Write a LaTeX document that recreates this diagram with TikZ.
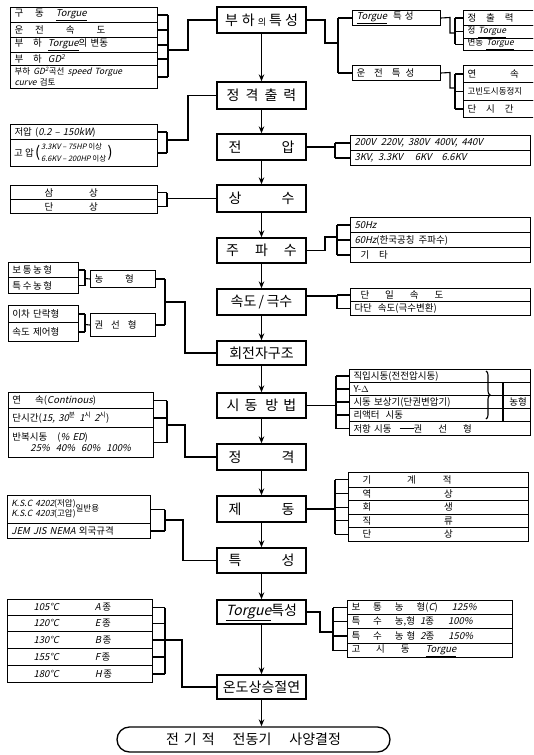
\documentclass[tikz,border=0pt]{standalone}
\usepackage{fontspec}
\setmainfont{Noto Sans CJK KR}
\newfontfamily\krit[FakeSlant=0.22]{Noto Sans CJK KR}
\usetikzlibrary{arrows.meta,calc,decorations.pathreplacing}
\newcommand{\ltn}[1]{{\krit #1}}
\newcommand{\rw}[6]{\pgfmathsetmacro{\rwtw}{#4-8}\node[rowb,minimum width=#4pt,minimum height=#5pt,text width=\rwtw pt] (#1) at (#2,#3) {#6};}
\newcommand{\stubsE}[2]{\foreach \r in {#1} {\draw[ln] (\r.east) -- (\r.east -| #2);}}
\newcommand{\stubsW}[2]{\foreach \r in {#1} {\draw[ln] (\r.west) -- (\r.west -| #2);}}
\begin{document}
\begin{tikzpicture}[x=1pt,y=-1pt,
  cbox/.style={draw,line width=1.3pt,minimum width=89pt,inner sep=0pt,font=\fontsize{14}{16}\selectfont},
  rowb/.style={draw,line width=1pt,anchor=north west,inner xsep=4pt,inner ysep=0pt,align=left,font=\fontsize{9.5}{11}\selectfont},
  small/.style={anchor=west,inner sep=0pt,font=\fontsize{7.5}{9}\selectfont},
  paren/.style={anchor=west,inner sep=0pt,font=\fontsize{15}{15}\selectfont},
  ln/.style={line width=1.1pt},
  arr/.style={line width=1.2pt,-{Stealth[length=7pt,width=5.5pt]}}]
\useasboundingbox (0,0) rectangle (533,755);
\fill[white] (0,0) rectangle (533,755);
\clip (0,0) rectangle (533,755);

% ---------- central column ----------
\node[cbox,minimum height=26pt] (c1) at (261.5,20) {부\hspace{4pt}하\hspace{3pt}{\fontsize{9}{10}\selectfont 의}\hspace{3pt}특\hspace{3pt}성};
\node[cbox,minimum height=27pt] (c2) at (261.5,95.5) {정\hspace{6pt}격\hspace{6pt}출\hspace{6pt}력};
\node[cbox,minimum height=26pt] (c3) at (261.5,147) {전\hspace{40pt}압};
\node[cbox,minimum height=27pt] (c4) at (261.5,198.5) {상\hspace{40pt}수};
\node[cbox,minimum height=25pt] (c5) at (261.5,250.5) {주\hspace{16pt}파\hspace{16pt}수};
\node[cbox,minimum height=26pt] (c6) at (261.5,302) {속도\,/\,극수};
\node[cbox,minimum height=24pt] (c7) at (261.5,353) {회전자구조};
\node[cbox,minimum height=25pt] (c8) at (261.5,405.5) {시\hspace{5pt}동\hspace{8pt}방\hspace{5pt}법};
\node[cbox,minimum height=26pt] (c9) at (261.5,457) {정\hspace{40pt}격};
\node[cbox,minimum height=26pt] (c10) at (261.5,509) {제\hspace{40pt}동};
\node[cbox,minimum height=25pt] (c11) at (261.5,560.5) {특\hspace{40pt}성};
\node[cbox,minimum height=24pt] (c12) at (261.5,612) {\ltn{\underline{Torgue}}특성};
\node[cbox,minimum height=24pt] (c13) at (261.5,687) {온도상승절연};
\node[cbox,minimum width=273pt,minimum height=25pt,rounded corners=12.5pt] (st) at (253.5,739.5) {전\hspace{5pt}기\hspace{5pt}적\hspace{18pt}전동기\hspace{18pt}사양결정};

\foreach \a/\b in {c1/c2,c2/c3,c3/c4,c4/c5,c5/c6,c6/c7,c7/c8,c8/c9,c9/c10,c10/c11,c11/c12,c12/c13}
  {\draw[arr] (\a) -- (\b);}
\draw[arr] (c13.south) -- (c13.south |- st.north);

% ---------- A: load characteristics ----------
\rw{a1}{10}{7}{147}{15}{구\hspace{12pt}동\hspace{12pt}\ltn{\underline{Torgue}}}
\rw{a2}{10}{22}{147}{15}{운\hspace{12pt}전\hspace{22pt}속\hspace{22pt}도}
\rw{a3}{10}{37}{147}{15}{부\hspace{10pt}하\hspace{6pt}\ltn{\underline{Torgue}}의 변동}
\rw{a4}{10}{52}{147}{13}{부\hspace{10pt}하\hspace{6pt}\ltn{GD\textsuperscript{2}}}
\rw{a5}{10}{65}{147}{23}{\fontsize{8.5}{10}\selectfont 부하 \ltn{GD\textsuperscript{2}}곡선 \ltn{speed Torgue}\\\ltn{curve} 검토}
\coordinate (aB) at (168,50);
\coordinate (aK) at (188,50);
\stubsE{a1,a2,a3,a4,a5}{aB}
\draw[ln] (a1.east -| aB) -- (a5.east -| aB);
\draw[ln] (aB) -- (aK) |- (c1.west);

% ---------- B: rated output ----------
\rw{b1}{10}{124}{147}{15}{저압 (\ltn{0.2 – 150kW})}
\rw{b2}{10}{139}{147}{27}{}
\node[anchor=west,inner sep=0pt,font=\fontsize{9.5}{11}\selectfont] (bg) at (14,152.5) {고 압};
\node[paren] (bp1) at ($(bg.east)+(1,0)$) {(};
\node[small] (bt1) at (41,146.5) {\ltn{3.3KV – 75HP} 이상};
\node[small] (bt2) at (41,159) {\ltn{6.6KV – 200HP} 이상};
\node[paren] (bp2) at ($(bt2.east |- bp1)+(1,0)$) {)};
\coordinate (bB) at (167,140);
\coordinate (bK) at (188,140);
\stubsE{b1,b2}{bB}
\draw[ln] (b1.east -| bB) -- (b2.east -| bB);
\draw[ln] (bB) -- (bK) |- (c2.west);

% ---------- C: phases ----------
\rw{cc1}{10}{185}{147}{14}{\hspace{30pt}삼\hspace{36pt}상}
\rw{cc2}{10}{199}{147}{14}{\hspace{30pt}단\hspace{36pt}상}
\coordinate (cB) at (167,198.5);
\stubsE{cc1,cc2}{cB}
\draw[ln] (cc1.east -| cB) -- (cc2.east -| cB);
\draw[ln] (cB) -- (c4.west);

% ---------- D: rotor construction ----------
\rw{d1}{8}{262}{70}{15}{보\,통\,농\,형}
\rw{d2}{8}{277}{70}{16}{특\,수\,농\,형}
\rw{d3}{90}{270}{65}{17}{농\hspace{22pt}형}
\rw{d4}{8}{305}{70}{17}{이차 단락형}
\rw{d5}{8}{322}{70}{19}{속도 제어형}
\rw{d6}{90}{313}{65}{23}{권\hspace{8pt}선\hspace{8pt}형}
\coordinate (dB1) at (85,278.5);
\coordinate (dB2) at (85,324.5);
\coordinate (dB3) at (165,302);
\coordinate (dK) at (185,302);
\stubsE{d1,d2}{dB1}
\draw[ln] (d1.east -| dB1) -- (d2.east -| dB1);
\draw[ln] (dB1) -- (d3.west);
\stubsE{d4,d5}{dB2}
\draw[ln] (d4.east -| dB2) -- (d5.east -| dB2);
\draw[ln] (dB2) -- (d6.west);
\stubsE{d3,d6}{dB3}
\draw[ln] (d3.east -| dB3) -- (d6.east -| dB3);
\draw[ln] (dB3) -- (dK) |- (c7.west);

% ---------- E: starting methods ----------
\rw{e1}{349}{369}{181}{13}{직입시동(전전압시동)}
\rw{e2}{349}{382}{181}{13}{Y-$\Delta$}
\rw{e3}{349}{395}{181}{13}{시동 보상기(단권변압기)}
\rw{e4}{349}{408}{181}{13}{리액터\hspace{6pt}시동}
\rw{e5}{349}{421}{181}{14}{저항 시동\hspace{8pt}\rule[3pt]{14pt}{0.8pt}권\hspace{16pt}선\hspace{16pt}형}
\draw[ln,decorate,decoration={brace,amplitude=4pt}] (486,371) -- (486,419);
\draw[ln] (503,382) -- (503,421);
\node[font=\fontsize{9.5}{11}\selectfont] (eN) at (518,401.5) {농형};
\coordinate (eB) at (336,405.5);
\stubsW{e1,e2,e3,e4,e5}{eB}
\draw[ln] (e1.west -| eB) -- (e5.west -| eB);
\draw[ln] (c8.east) -- (eB);

% ---------- F: duty ----------
\rw{f1}{8}{392}{145}{16}{연\hspace{14pt}속(\ltn{Continous})}
\rw{f2}{8}{408}{145}{19}{단시간(\ltn{15, 30}\textsuperscript{분}\hspace{4pt}\ltn{1}\textsuperscript{시}\hspace{3pt}\ltn{2}\textsuperscript{시})}
\rw{f3}{8}{427}{145}{30}{반복시동\hspace{10pt}(\ltn{\% ED})\\\hspace{18pt}\ltn{25\%\hspace{6pt}40\%\hspace{6pt}60\%\hspace{6pt}100\%}}
\coordinate (fB) at (167,425);
\coordinate (fK) at (185,425);
\stubsE{f1,f2,f3}{fB}
\draw[ln] (f1.east -| fB) -- (f3.east -| fB);
\draw[ln] (fB) -- (fK) |- (c9.west);

% ---------- G: standards ----------
\rw{g1}{7}{495}{143}{28}{\fontsize{8.5}{10}\selectfont\begin{tabular}{@{}l@{}}\ltn{K.S.C 4202}(저압)\\\ltn{K.S.C 4203}(고압)\end{tabular}일반용}
\rw{g2}{7}{523}{143}{15}{\ltn{JEM JIS NEMA} 외국규격}
\coordinate (gB) at (165,520);
\coordinate (gK) at (183,520);
\stubsE{g1,g2}{gB}
\draw[ln] (g1.east -| gB) -- (g2.east -| gB);
\draw[ln] (gB) -- (gK) |- (c11.west);

% ---------- H: insulation classes ----------
\rw{h1}{7}{599}{145}{16}{\hspace{22pt}\ltn{105°C}\hspace{36pt}\ltn{A}\,종}
\rw{h2}{7}{615}{145}{16}{\hspace{22pt}\ltn{120°C}\hspace{36pt}\ltn{E}\,종}
\rw{h3}{7}{631}{145}{17}{\hspace{22pt}\ltn{130°C}\hspace{36pt}\ltn{B}\,종}
\rw{h4}{7}{648}{145}{17}{\hspace{22pt}\ltn{155°C}\hspace{36pt}\ltn{F}\,종}
\rw{h5}{7}{665}{145}{17}{\hspace{22pt}\ltn{180°C}\hspace{36pt}\ltn{H}\,종}
\coordinate (hB) at (165,640);
\coordinate (hK) at (182,640);
\stubsE{h1,h2,h3,h4,h5}{hB}
\draw[ln] (h1.east -| hB) -- (h5.east -| hB);
\draw[ln] (hB) -- (hK) |- (c13.west);

% ---------- I: torque / operating characteristics ----------
\rw{i1}{352}{10}{88}{15}{\ltn{\underline{Torgue}}\hspace{6pt}특\hspace{3pt}성}
\rw{i2}{352}{65}{88}{15}{운\hspace{9pt}전\hspace{9pt}특\hspace{5pt}성}
\coordinate (iK1) at (325,20);
\coordinate (iK2) at (325,43);
\coordinate (iB) at (338,43);
\draw[ln] (c1.east) -- (iK1) -- (iK2) -- (iB);
\stubsW{i1,i2}{iB}
\draw[ln] (i1.west -| iB) -- (i2.west -| iB);

% ---------- J ----------
\rw{j1}{463}{10}{82}{15}{정\hspace{10pt}출\hspace{10pt}력}
\rw{j2}{463}{25}{82}{12.5}{\fontsize{8.5}{10}\selectfont 정 \ltn{\underline{Torgue}}}
\rw{j3}{463}{37.5}{82}{12.5}{\fontsize{8.5}{10}\selectfont 변동 \ltn{\underline{Torgue}}}
\coordinate (jK1) at (450,17.5);
\coordinate (jK2) at (450,33);
\coordinate (jB) at (455,33);
\draw[ln] (i1.east) -- (jK1) -- (jK2) -- (jB);
\stubsW{j1,j2,j3}{jB}
\draw[ln] (j1.west -| jB) -- (j3.west -| jB);

% ---------- K ----------
\rw{k1}{463}{65}{82}{17}{연\hspace{34pt}속}
\rw{k2}{463}{82}{82}{18}{\fontsize{8.5}{10}\selectfont 고빈도시동정지}
\rw{k3}{463}{100}{82}{17}{단\hspace{10pt}시\hspace{10pt}간}
\coordinate (kK1) at (450,72.5);
\coordinate (kK2) at (450,88);
\coordinate (kB) at (455,88);
\draw[ln] (i2.east) -- (kK1) -- (kK2) -- (kB);
\stubsW{k1,k2,k3}{kB}
\draw[ln] (k1.west -| kB) -- (k3.west -| kB);

% ---------- L: voltages ----------
\rw{l1}{350}{135}{180}{15}{\ltn{200V\hspace{5pt}220V,\hspace{4pt}380V\hspace{5pt}400V,\hspace{4pt}440V}}
\rw{l2}{350}{150}{180}{15}{\ltn{3KV,\hspace{5pt}3.3KV\hspace{12pt}6KV\hspace{10pt}6.6KV}}
\coordinate (lB) at (335,147);
\draw[ln] (c3.east) -- (lB);
\stubsW{l1,l2}{lB}
\draw[ln] (l1.west -| lB) -- (l2.west -| lB);

% ---------- M: frequency ----------
\rw{m1}{350}{217}{180}{15}{\ltn{50Hz}}
\rw{m2}{350}{232}{180}{15}{\ltn{60Hz}(한국공칭\hspace{4pt}주파수)}
\rw{m3}{350}{247}{180}{15}{\hspace{6pt}기\hspace{10pt}타}
\coordinate (mK1) at (325,250.5);
\coordinate (mK2) at (325,237);
\coordinate (mB) at (337,237);
\draw[ln] (c5.east) -- (mK1) -- (mK2) -- (mB);
\stubsW{m1,m2,m3}{mB}
\draw[ln] (m1.west -| mB) -- (m3.west -| mB);

% ---------- N: speed ----------
\rw{n1}{350}{288}{180}{13}{\hspace{6pt}단\hspace{16pt}일\hspace{16pt}속\hspace{16pt}도}
\rw{n2}{350}{301}{180}{14}{다단\hspace{6pt}속도(극수변환)}
\coordinate (nB) at (337,296);
\draw[ln] (c6.east |- nB) -- (nB);
\stubsW{n1,n2}{nB}
\draw[ln] (n1.west -| nB) -- (n2.west -| nB);

% ---------- O: braking ----------
\rw{o1}{348}{472}{180}{14.5}{\hspace{10pt}기\hspace{36pt}계\hspace{27pt}적}
\rw{o2}{348}{486.5}{180}{13.5}{\hspace{10pt}역\hspace{73pt}상}
\rw{o3}{348}{500}{180}{13.5}{\hspace{10pt}회\hspace{73pt}생}
\rw{o4}{348}{513.5}{180}{13.5}{\hspace{10pt}직\hspace{73pt}류}
\rw{o5}{348}{527}{180}{13.5}{\hspace{10pt}단\hspace{73pt}상}
\coordinate (oB) at (335,509);
\draw[ln] (c10.east) -- (oB);
\stubsW{o1,o2,o3,o4,o5}{oB}
\draw[ln] (o1.west -| oB) -- (o5.west -| oB);

% ---------- P: torque classes ----------
\rw{p1}{347}{600}{165}{14}{보\hspace{13pt}통\hspace{13pt}농\hspace{13pt}형(\ltn{C})\hspace{14pt}\ltn{125\%}}
\rw{p2}{347}{614}{165}{14}{특\hspace{13pt}수\hspace{13pt}농,형\hspace{5pt}\ltn{1}종\hspace{14pt}\ltn{100\%}}
\rw{p3}{347}{628}{165}{15}{특\hspace{13pt}수\hspace{13pt}농\hspace{3pt}형\hspace{5pt}\ltn{2}종\hspace{14pt}\ltn{150\%}}
\rw{p4}{347}{643}{165}{14}{고\hspace{16pt}시\hspace{16pt}동\hspace{16pt}\ltn{\underline{Torgue}}}
\coordinate (pK1) at (320,612);
\coordinate (pK2) at (320,632);
\coordinate (pB) at (333,632);
\draw[ln] (c12.east) -- (pK1) -- (pK2) -- (pB);
\stubsW{p1,p2,p3,p4}{pB}
\draw[ln] (p1.west -| pB) -- (p4.west -| pB);
\end{tikzpicture}
\end{document}
